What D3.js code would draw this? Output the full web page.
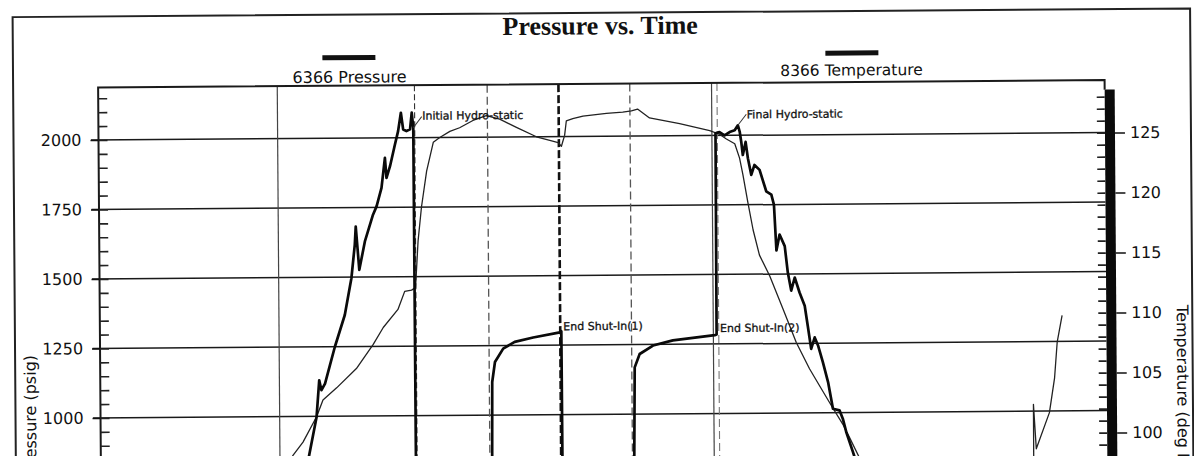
<!DOCTYPE html>
<html><head><meta charset="utf-8">
<script src="https://cdn.jsdelivr.net/npm/d3@7"></script>
<style>html,body{margin:0;padding:0;background:#fff;overflow:hidden}</style>
</head><body>
<svg id="chart" width="1194" height="456"></svg>
<script>
// ---------- data ----------
// elapsed time in minutes, pressure in psig (6366 Pressure)
const pressureTime = [55.6,58.1,60.2,61.0,61.6,62.6,64.0,65.4,68.2,70.1,71.1,71.4,72.3,73.9,76.2,77.2,78.6,79.6,80.0,81.0,82.4,83.3,84.1,84.7,85.6,86.6,87.1,87.5,87.6,
  108.3,108.8,109.6,111.9,115.1,120.2,127.6,128.0,128.1,
  147.4,148.2,149.6,153.3,158.8,170.4,170.9,171.0,172.1,173.5,174.9,176.3,177.2,177.7,178.1,178.5,179.3,179.9,180.8,181.7,183.1,184.9,186.3,187.0,187.6,188.5,189.9,190.7,191.6,192.6,193.9,195.3,196.1,197.0,198.0,198.9,200.2,201.6,202.9,204.7,205.6,206.5,208.3,211.5];
const pressureValue = [700,862,998,1130,1094,1118,1184,1250,1364,1496,1616,1682,1526,1628,1724,1754,1820,1928,1856,1898,1976,2024,2090,2030,2024,2030,2090,2036,300,
  300,1119,1191,1239,1263,1278,1296,1300,300,
  300,1168,1216,1246,1264,1282,1284,2008,2012,2000,2012,2018,2036,2012,1976,1929,1976,1917,1857,1893,1875,1798,1786,1750,1585,1642,1600,1505,1440,1487,1433,1385,1313,1230,1271,1242,1182,1110,1014,1008,978,931,859,730];
// temperature in deg (8366 Temperature)
const temperatureTime = [50.5,53.6,56.4,60.2,62.0,65.8,71.3,76.0,78.8,82.9,84.8,86.7,87.8,88.6,89.6,91.1,93.0,94.8,97.6,100.3,104.0,107.7,111.4,116.0,121.5,125.2,127.5,128.4,129.3,129.8,131.6,134.4,140.9,145.4,147.8,149.5,152.8,161.1,169.4,172.1,174.0,176.3,177.6,178.5,179.8,181.2,182.9,185.7,189.3,192.9,196.5,199.2,202.9,205.7,207.5,211.0,235.0,258.2,258.3,259.0,262.7,264.2,265.0,266.4];
const temperatureValue = [97.0,98.6,99.7,101.8,103.2,104.2,105.8,107.8,109.2,110.7,112.2,112.3,112.5,116.4,119.2,122.2,124.6,125.0,125.5,125.8,126.4,126.8,126.5,125.8,125.0,124.7,124.5,124.2,125.1,126.3,126.5,126.7,126.9,127.0,127.1,127.25,126.5,126.0,125.4,125.1,124.7,124.3,123.1,121.7,119.4,117.1,115.0,113.25,110.5,107.7,105.5,104.1,102.2,100.8,99.7,97.5,88,88,102.4,98.7,101.7,104.6,107.6,109.8];
// event markers (vertical dashed lines), minutes
const eventTime = [87.9,108.0,127.7,147.4,171.5];
// vertical time grid lines, minutes
const timeGrid = [50,170];
// axis ticks (visible part)
const pressureTicks = [1000,1250,1500,1750,2000];
const temperatureTicks = [100,105,110,115,120,125];
// annotations anchored on data
const annoText = ["Initial Hydro-static","Final Hydro-static","End Shut-In(1)","End Shut-In(2)"];
const annoTime = [87.5,177.2,128.0,170.9];
const annoValue = [2036,2036,1300,1284];
const seriesNames = ["6366 Pressure","8366 Temperature"];
const titleText = "Pressure vs. Time";
const yLeftTitle = "Pressure (psig)";
const yRightTitle = "Temperature (deg F)";

// ---------- layout ----------
const L = 98.5, R = 1105, T = 87.5, B = 700;
const x = d3.scaleLinear().domain([0.5, 280]).range([98.5, 1110]);
const yP = d3.scaleLinear().domain([1000, 2000]).range([418, 140]);
const yT = d3.scaleLinear().domain([100, 125]).range([440, 140]);
const FONT = "'DejaVu Sans', sans-serif";

const svg = d3.select("#chart");
svg.append("rect").attr("width",1194).attr("height",456).attr("fill","#fff");
const defs = svg.append("defs");
defs.append("clipPath").attr("id","plotclip").append("rect")
  .attr("x",L).attr("y",T).attr("width",R-L).attr("height",B-T);

const root = svg.append("g").attr("transform","rotate(-0.42,98,140)");

// outer frame
root.append("path").attr("d","M13.5,520V16.5H1191V520")
  .attr("fill","none").attr("stroke","#222").attr("stroke-width",2);

// title
root.append("text").attr("x",601).attr("y",38).attr("text-anchor","middle")
  .attr("font-family","'Liberation Serif','Times New Roman',serif").attr("font-weight","bold")
  .attr("font-size",26).attr("fill","#111").text(titleText);

// legend
const legendPos = [{bx:323, by:57, tx:350, ty:84.5, fs:16},{bx:826, by:56, tx:852, ty:81, fs:15.5}];
seriesNames.forEach((n,i)=>{
  const p = legendPos[i];
  root.append("rect").attr("x",p.bx).attr("y",p.by).attr("width",53).attr("height",5).attr("fill","#111");
  root.append("text").attr("x",p.tx).attr("y",p.ty).attr("text-anchor","middle")
    .attr("font-family",FONT).attr("font-size",p.fs).attr("fill","#111").text(n);
});

// horizontal grid lines (pressure majors)
root.append("g").selectAll("line").data(pressureTicks).join("line")
  .attr("x1",91).attr("x2",R).attr("y1",d=>yP(d)).attr("y2",d=>yP(d))
  .attr("stroke","#1a1a1a").attr("stroke-width",1.5);

// vertical time grid
root.append("g").selectAll("line").data(timeGrid).join("line")
  .attr("x1",d=>x(d)).attr("x2",d=>x(d)).attr("y1",T).attr("y2",B)
  .attr("stroke","#444").attr("stroke-width",1.2);

// event markers
const evStyle = [
  {c:"#333", w:1.1, d:"6,3"},
  {c:"#555", w:1.3, d:"8,4"},
  {c:"#111", w:2.6, d:"8,3"},
  {c:"#555", w:1.3, d:"8,4"},
  {c:"#777", w:1.1, d:"8,4"}];
root.append("g").selectAll("line").data(eventTime).join("line")
  .attr("x1",d=>x(d)).attr("x2",d=>x(d)).attr("y1",T).attr("y2",B)
  .attr("stroke",(d,i)=>evStyle[i].c).attr("stroke-width",(d,i)=>evStyle[i].w)
  .attr("stroke-dasharray",(d,i)=>evStyle[i].d);

// plot frame
root.append("path").attr("d",`M${L},${B}V${T}H${R}V97`).attr("fill","none")
  .attr("stroke","#1a1a1a").attr("stroke-width",2);
root.append("rect").attr("x",1105).attr("y",97).attr("width",10).attr("height",B-97).attr("fill","#0a0a0a");

// left axis
const leftAxis = root.append("g").attr("transform",`translate(${L},0)`)
  .call(d3.axisLeft(yP).tickValues(pressureTicks).tickSize(8).tickPadding(9).tickFormat(d3.format("d")));
leftAxis.select(".domain").remove();
leftAxis.selectAll("line").attr("stroke","#111").attr("stroke-width",1.6);
leftAxis.selectAll("text").attr("font-family",FONT).attr("font-size",16).attr("fill","#111");
const leftMinor = root.append("g").attr("transform",`translate(${L},0)`)
  .call(d3.axisRight(yP).tickValues(d3.range(700,2200,50)).tickSize(9).tickFormat(""));
leftMinor.select(".domain").remove();
leftMinor.selectAll("line").attr("stroke","#222").attr("stroke-width",1.6);

// right axis
const rightAxis = root.append("g").attr("transform",`translate(1115,0)`)
  .call(d3.axisRight(yT).tickValues(temperatureTicks).tickSize(10).tickPadding(5).tickFormat(d3.format("d")));
rightAxis.select(".domain").remove();
rightAxis.selectAll("line").attr("stroke","#111").attr("stroke-width",1.4);
rightAxis.selectAll("text").attr("font-family",FONT).attr("font-size",16).attr("fill","#111");
const rightMinor = root.append("g").attr("transform",`translate(1105,0)`)
  .call(d3.axisLeft(yT).tickValues(d3.range(90,130,1)).tickSize(8).tickFormat(""));
rightMinor.select(".domain").remove();
rightMinor.selectAll("line").attr("stroke","#222").attr("stroke-width",1.6);
rightMinor.selectAll(".tick").filter(d=>yT(d)<98).remove();

// axis titles (cropped by the bottom edge, as in the reference)
root.append("text").attr("transform","translate(34,414) rotate(-90)").attr("text-anchor","middle")
  .attr("font-family",FONT).attr("font-size",16).attr("fill","#111").text(yLeftTitle);
root.append("text").attr("transform","translate(1175.5,313) rotate(90)").attr("text-anchor","start")
  .attr("font-family",FONT).attr("font-size",16).attr("fill","#111").text(yRightTitle);

// series
const plot = root.append("g").attr("clip-path","url(#plotclip)");
const tempPts = temperatureTime.map((t,i)=>[t,temperatureValue[i]]);
const presPts = pressureTime.map((t,i)=>[t,pressureValue[i]]);
plot.append("path").datum(tempPts)
  .attr("d",d3.line().x(d=>x(d[0])).y(d=>yT(d[1])))
  .attr("fill","none").attr("stroke","#222").attr("stroke-width",1.3).attr("stroke-linejoin","round");
plot.append("path").datum(presPts)
  .attr("d",d3.line().x(d=>x(d[0])).y(d=>yP(d[1])))
  .attr("fill","none").attr("stroke","#0a0a0a").attr("stroke-width",2.7).attr("stroke-linejoin","round");

// annotations
const annoOff = [
  {lead:[8.5,-11], tx:9, ty:-8},
  {lead:[8.5,-11], tx:9, ty:-7},
  {lead:null, tx:2, ty:-1},
  {lead:null, tx:3.5, ty:-2.5}];
annoText.forEach((s,i)=>{
  const px = x(annoTime[i]), py = yP(annoValue[i]), o = annoOff[i];
  if (o.lead) root.append("line").attr("x1",px).attr("y1",py).attr("x2",px+o.lead[0]).attr("y2",py+o.lead[1])
    .attr("stroke","#333").attr("stroke-width",1);
  root.append("text").attr("x",px+o.tx).attr("y",py+o.ty)
    .attr("font-family",FONT).attr("font-size",11).attr("fill","#111")
    .attr("stroke","#111").attr("stroke-width",0.3).text(s);
});
</script>
</body></html>
